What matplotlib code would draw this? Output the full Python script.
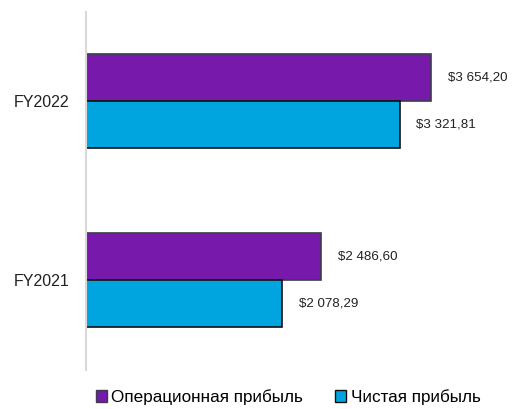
import numpy as np
import matplotlib.pyplot as plt
from matplotlib.patches import Patch

years = ['FY2021', 'FY2022']
oper_profit = [2486.60, 3654.20]
net_profit = [2078.29, 3321.81]
series_names = ['Операционная прибыль', 'Чистая прибыль']

purple = '#7719AA'
blue = '#00A5E0'

plt.rcParams['font.family'] = ['Liberation Sans', 'DejaVu Sans']

fig = plt.figure(figsize=(5.15, 4.09), dpi=100)
ax = fig.add_axes([86 / 515, 1 - 369.5 / 409, (464 - 86) / 515, 358 / 409])

y = np.arange(len(years))
h = 0.2625
ax.barh(y + h / 2, oper_profit, height=h, color=purple, edgecolor='#3c3c4c', linewidth=1.2)
ax.barh(y - h / 2, net_profit, height=h, color=blue, edgecolor='#111111', linewidth=1.2)

def fmt(v):
    s = f'{v:,.2f}'.replace(',', ' ').replace('.', ',')
    return '$' + s

for yi, v in zip(y + h / 2, oper_profit):
    ax.text(v + 175, yi, fmt(v), va='center', ha='left', fontsize=9.6, color='#222222')
for yi, v in zip(y - h / 2, net_profit):
    ax.text(v + 175, yi, fmt(v), va='center', ha='left', fontsize=9.6, color='#222222')

ax.set_xlim(0, 4000)
ax.set_ylim(-0.5, 1.5)
ax.set_yticks(y)
ax.set_yticklabels(years, fontsize=11.5, color='#222222')
ax.tick_params(axis='y', length=0, pad=12)
ax.set_xticks([])
for side in ['top', 'right', 'bottom']:
    ax.spines[side].set_visible(False)
ax.spines['left'].set_color('#d9d9d9')
ax.spines['left'].set_linewidth(1.5)

handles = [Patch(facecolor=purple, edgecolor='#3c3c4c', label=series_names[0]),
           Patch(facecolor=blue, edgecolor='#111111', label=series_names[1])]
fig.legend(handles=handles, loc='center', bbox_to_anchor=(288 / 515, 1 - 397 / 409), ncol=2,
           frameon=False, fontsize=12.3, handlelength=0.65, handleheight=0.65,
           handletextpad=0.25, columnspacing=1.9)

fig.savefig('out.png', dpi=100)
